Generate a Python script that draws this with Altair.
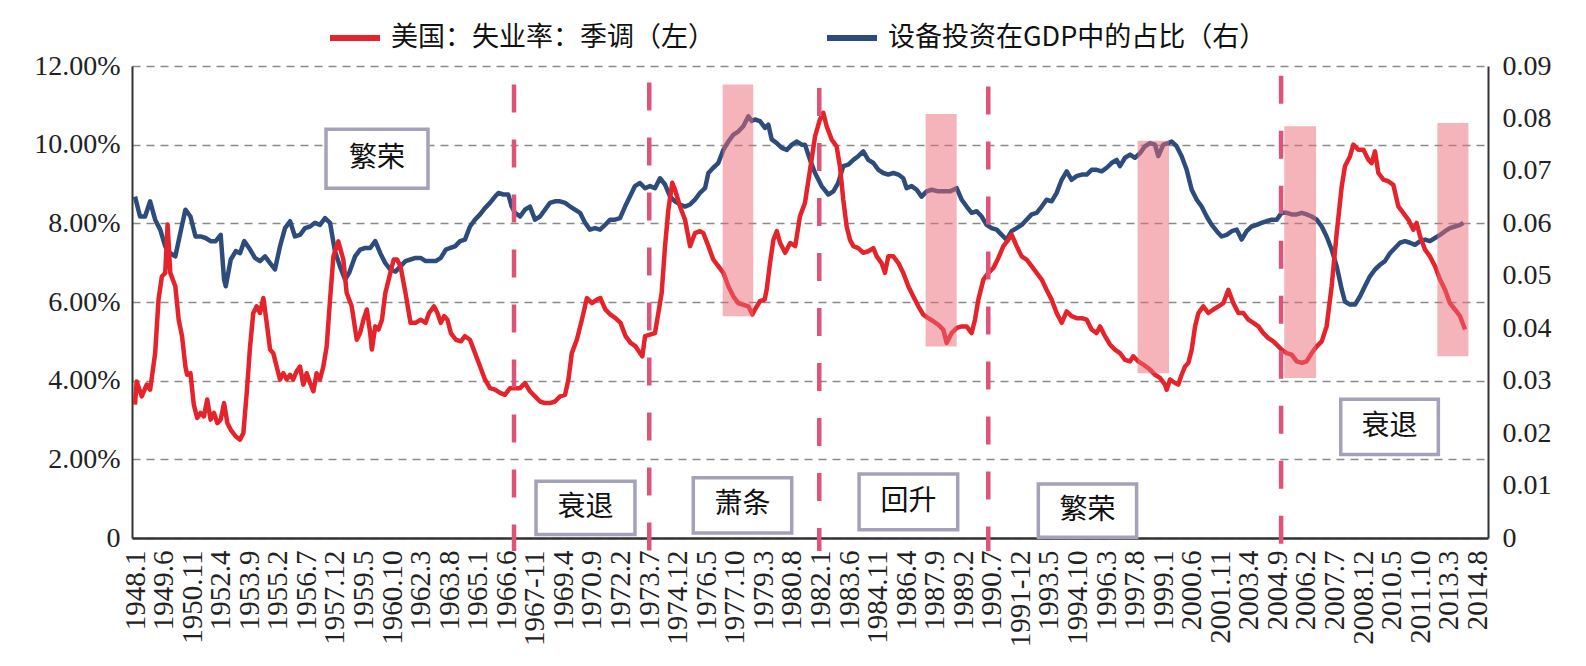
import altair as alt
import pandas as pd

# ---------------- data ----------------
# x = month index (0 = 1948.1), value in %
red_x = [0,1,4,7,9,12,14,16,18,19.4,21,24,26,28,30,31,33,35,37,39,41,43,45,47,49,51,53,55,57,60,62.5,64.5,66.5,68.5,70.4,72.4,74.4,76.4,78.4,80.4,82.3,84.3,86.3,88.3,90.3,92.3,94.2,96.2,98.2,100.2,102.2,104.2,106.2,108.1,110.1,112.1,114.1,116.1,118.1,121,124,126,129,132,134,136,138,140,141,143,145,147,149,152,154,156,158,161,164,167,170,173,175,178,180,182,184,186,188,191,194,
         196.4,199.4,202.4,205.4,208.3,211.3,214.3,217.3,220.2,223.2,226.2,229.2,232.1,235.1,238.1,241.1,244,247,250,253,256,258,260,263,266,269,272,275,277,280,283,286,289,292,295,298,300.6,302,303.6,306.5,309.5,311.5,313.5,315.5,317.5,319.8,321.4,324.4,327.4,330.4,333.3,336.3,338.3,341.3,344.2,347.2,350.2,353.2,356.2,359.1,362.1,365.1,367.5,369,372,374.8,376,378,380,382,384,387,390,393,395.8,
         398.8,401.8,404.8,407.7,409.7,411.7,414.7,417.6,419.6,421.6,423.6,425.6,427.6,430.5,433.5,436.5,439.5,441.5,444.4,446.4,448.4,451.4,454.4,457.3,460.3,463.3,466.3,469.2,472.2,475.2,478.2,481.1,483.1,486.1,489.1,492.1,495,498,500,502,505,507.9,510.9,513.9,516.9,519.8,521.8,524.8,527.8,530.7,533.7,536.7,539.7,542.6,545.6,548.6,551.6,554.6,557.5,560.5,563.5,566.5,569.4,572.4,574.4,577.4,580.3,583.3,586.3,589.3,592.3,594.2,597.2,600.2,
         604.2,607.1,610.1,613.1,614.1,616.1,619.1,621,623,625,627,629,631,633,635.9,638.9,641.9,644.9,647.8,650.8,653.8,656.8,659.7,662.7,665.7,668.7,671.6,674.6,677.6,680.6,682.5,685.5,688.5,691.5,694.5,697.4,700.4,703.4,706.4,709.3,712.3,715.3,718.3,720.2,723.2,725.2,728.2,731.2,734.1,736.1,738.1,740.1,743.1,746,749,752,755,758,760.9,762.9,764.9,767.9,770.8,773.8,776.8,779.8,782.7,785.7,788.7,791.7]
red_v = [3.39,3.98,3.60,3.90,3.77,4.70,6.06,6.65,6.74,7.97,6.74,6.40,5.55,5.13,4.36,4.15,4.19,3.39,3.05,3.18,3.09,3.52,3.01,3.18,2.92,3.01,3.43,2.92,2.75,2.58,2.50,2.67,3.69,4.87,5.72,5.89,5.72,6.10,5.47,4.79,4.70,4.36,4.03,4.19,4.03,4.15,4.03,4.24,4.36,3.90,4.19,3.94,3.73,4.19,4.03,4.36,4.87,6.06,7.16,7.54,7.08,6.23,5.89,5.04,5.21,5.55,5.81,5.21,4.79,5.38,5.30,5.55,6.23,6.74,7.08,7.08,6.91,6.23,5.47,5.47,5.55,5.47,5.72,5.89,5.72,5.47,5.64,5.55,5.21,5.04,5.00,
         5.13,5.04,4.70,4.36,4.03,3.81,3.77,3.69,3.64,3.81,3.81,3.81,3.94,3.73,3.60,3.47,3.43,3.43,3.47,3.60,3.64,4.03,4.70,5.04,5.55,6.10,5.97,6.06,6.10,5.81,5.68,5.59,5.47,5.13,4.96,4.87,4.70,4.62,5.13,5.17,5.21,5.72,6.23,7.42,8.35,9.03,8.86,8.43,8.09,7.42,7.75,7.80,7.75,7.42,7.08,6.91,6.74,6.40,6.14,5.97,5.93,5.89,5.68,5.81,6.02,6.06,6.31,6.99,7.58,7.80,7.50,7.25,7.50,7.42,8.18,
         8.52,9.36,10.21,10.64,10.81,10.47,10.13,9.96,9.45,8.60,7.92,7.58,7.42,7.37,7.25,7.29,7.37,7.16,6.99,6.74,7.16,7.16,6.99,6.74,6.40,6.14,5.89,5.68,5.59,5.51,5.42,5.30,4.96,5.21,5.34,5.38,5.38,5.21,5.55,6.06,6.57,6.74,6.86,7.12,7.42,7.58,7.71,7.42,7.16,7.08,6.91,6.74,6.57,6.31,6.06,5.72,5.47,5.76,5.64,5.59,5.59,5.55,5.30,5.21,5.38,5.13,4.92,4.79,4.70,4.53,4.49,4.62,4.49,4.41,
         4.28,4.15,4.07,3.90,3.77,4.03,3.94,3.90,4.15,4.36,4.45,4.79,5.38,5.72,5.89,5.72,5.81,5.89,5.97,6.31,5.97,5.72,5.72,5.55,5.47,5.38,5.21,5.08,5.00,4.87,4.79,4.70,4.66,4.49,4.45,4.49,4.70,4.87,5.00,5.38,6.40,7.75,8.94,9.45,9.70,10.0,9.87,9.87,9.62,9.53,9.83,9.28,9.11,9.07,8.98,8.43,8.26,8.09,7.84,8.01,7.67,7.33,7.16,6.91,6.57,6.31,5.97,5.81,5.64,5.30]

blue_x = [0,3,6,9,12,15,18,21,24,27,30,33,36,39,42,45,48,51,53,54,57,60,62.5,65,68.5,71.4,74.4,77.4,80.4,83.3,86.3,89.3,92.3,95.2,98.2,101.2,104.2,107.1,110.1,113.1,116.1,119,122,125,127.4,131,134,137,140,143,146,149,152,155,158,161,164,167,170,173,176,179,182,185,187.5,190.5,193.5,
          196.4,199.4,202.4,205.4,208.3,211.3,214.3,216.3,219.2,222.2,224.2,226.2,229.2,232.1,235.1,238.1,241.1,244,247,250,253,256,259,261.9,264.9,267.9,270.8,273.8,276.8,279.8,282.7,285.7,288.7,291.7,294.6,297.6,300.6,303.6,306.5,309.5,312.5,315.5,318.5,321.4,324.4,327.4,330.4,333.3,336.3,339.3,341.3,344.2,347.2,350.2,353.2,356.2,359.1,362.1,365.1,367.1,369,372,375,377,379,382,385,388,391,394,396.8,
          398.8,401.8,404.8,408.7,412.7,415.7,418.6,421.6,424.6,427.6,430.5,433.5,436.5,439.5,442.5,445.4,448.4,451.4,454.4,457.3,459.3,462.3,465.3,468.2,471.2,474.2,478.2,482.1,485.1,489.1,492.1,495,498,501,504,506.9,509.9,512.9,515.9,518.8,521.8,524.8,527.8,530.7,533.7,536.7,539.7,542.6,545.6,548.6,551.6,554.6,557.5,560.5,563.5,566.5,569.4,572.4,575.4,578.4,581.3,584.3,586.3,589.3,592.3,595.2,598.2,
          601.2,604.2,607.1,609.1,612.1,615.1,617.1,620,623,626,629,632,634.9,637.9,640.9,643.9,646.8,649.8,652.8,655.8,658.7,661.7,664.7,667.7,670.6,673.6,676.6,679.6,682.5,685.5,688.5,691.5,694.5,697.4,700.4,703.4,706.4,709.3,712.3,715.3,718.3,720.2,723.2,726.2,729.2,732.1,735.1,738.1,741.1,744,747,750,753,756,758.9,761.9,764.9,767.9,770.8,773.8,776.8,779.8,782.7,785.7,788.7,790.7]
blue_v = [0.0651,0.0613,0.0613,0.0642,0.0607,0.0588,0.0556,0.0543,0.0537,0.0582,0.0626,0.0613,0.0575,0.0575,0.0572,0.0566,0.0566,0.0578,0.0493,0.0480,0.0531,0.0547,0.0543,0.0566,0.0550,0.0534,0.0528,0.0537,0.0524,0.0512,0.0556,0.0591,0.0604,0.0575,0.0578,0.0591,0.0594,0.0601,0.0597,0.0610,0.0601,0.0547,0.0518,0.0493,0.0505,0.0537,0.0550,0.0553,0.0553,0.0566,0.0543,0.0524,0.0512,0.0508,0.0518,0.0528,0.0531,0.0534,0.0534,0.0528,0.0528,0.0528,0.0534,0.0550,0.0553,0.0556,0.0566,
          0.0569,0.0594,0.0607,0.0617,0.0629,0.0639,0.0651,0.0658,0.0655,0.0655,0.0632,0.0620,0.0613,0.0626,0.0632,0.0607,0.0613,0.0626,0.0639,0.0642,0.0642,0.0639,0.0632,0.0626,0.0620,0.0601,0.0588,0.0591,0.0588,0.0597,0.0607,0.0607,0.0610,0.0632,0.0651,0.0671,0.0677,0.0667,0.0671,0.0667,0.0686,0.0674,0.0651,0.0642,0.0636,0.0632,0.0636,0.0645,0.0658,0.0667,0.0696,0.0706,0.0715,0.0740,0.0756,0.0769,0.0775,0.0785,0.0804,0.0795,0.0798,0.0795,0.0782,0.0788,0.0760,0.0753,0.0744,0.0740,0.0750,0.0756,0.0750,
          0.0750,0.0721,0.0696,0.0671,0.0655,0.0661,0.0677,0.0709,0.0712,0.0721,0.0728,0.0737,0.0721,0.0715,0.0702,0.0696,0.0693,0.0696,0.0693,0.0686,0.0667,0.0671,0.0664,0.0651,0.0661,0.0664,0.0661,0.0661,0.0661,0.0667,0.0645,0.0632,0.0620,0.0623,0.0613,0.0597,0.0591,0.0588,0.0578,0.0569,0.0585,0.0591,0.0597,0.0607,0.0617,0.0620,0.0632,0.0645,0.0642,0.0658,0.0683,0.0699,0.0683,0.0690,0.0693,0.0693,0.0702,0.0702,0.0699,0.0706,0.0715,0.0721,0.0709,0.0725,0.0731,0.0725,0.0734,
          0.0747,0.0753,0.0750,0.0728,0.0750,0.0753,0.0756,0.0747,0.0728,0.0702,0.0664,0.0645,0.0632,0.0613,0.0597,0.0585,0.0575,0.0578,0.0585,0.0588,0.0569,0.0585,0.0594,0.0597,0.0601,0.0604,0.0607,0.0607,0.0620,0.0620,0.0617,0.0617,0.0620,0.0617,0.0613,0.0607,0.0594,0.0575,0.0550,0.0518,0.0474,0.0451,0.0445,0.0445,0.0461,0.0480,0.0499,0.0512,0.0521,0.0528,0.0543,0.0553,0.0563,0.0566,0.0563,0.0559,0.0566,0.0569,0.0566,0.0572,0.0578,0.0585,0.0591,0.0594,0.0597,0.0601]

tick_labels = ["1948.1","1949.6","1950.11","1952.4","1953.9","1955.2","1956.7","1957.12","1959.5","1960.10",
               "1962.3","1963.8","1965.1","1966.6","1967-11","1969.4","1970.9","1972.2","1973.7","1974.12",
               "1976.5","1977.10","1979.3","1980.8","1982.1","1983.6","1984.11","1986.4","1987.9","1989.2",
               "1990.7","1991-12","1993.5","1994.10","1996.3","1997.8","1999.1","2000.6","2001.11","2003.4",
               "2004.9","2006.2","2007.7","2008.12","2010.5","2011.10","2013.3","2014.8"]
tick_step = 17

# phase dividers (dashed lines)
div_x = [225.6, 306.1, 407.3, 507.9, 682.2]
div_top = [11.53, 11.58, 11.44, 11.48, 11.75]
div_bottom = [-0.33, -0.33, -0.33, -0.33, -0.33]

# shaded bands
band_x1 = [349.8, 470.6, 596.8, 684.1, 775.2]
band_x2 = [368.0, 489.1, 615.5, 703.0, 793.7]
band_top = [11.53, 10.78, 10.10, 10.47, 10.55]
band_bottom = [5.64, 4.87, 4.19, 4.07, 4.62]

# phase label boxes
box_text = ["繁荣", "衰退", "萧条", "回升", "繁荣", "衰退"]
box_x1 = [113.7, 238.7, 332.3, 431.0, 537.7, 717.7]
box_x2 = [174.4, 297.6, 390.9, 489.7, 596.2, 775.8]
box_top = [10.39, 1.44, 1.53, 1.63, 1.37, 3.53]
box_bottom = [8.89, 0.09, 0.13, 0.21, 0.02, 2.12]

RED_NAME = "美国：失业率：季调（左）"
BLUE_NAME = "设备投资在GDP中的占比（右）"

# ---------------- tables ----------------
red_df = pd.DataFrame({"x": red_x, "v": red_v, "series": RED_NAME})
blue_df = pd.DataFrame({"x": blue_x, "v": blue_v, "series": BLUE_NAME})
div_df = pd.DataFrame({"x": div_x, "top": div_top, "bottom": div_bottom})
band_df = pd.DataFrame({"x1": band_x1, "x2": band_x2, "top": band_top, "bottom": band_bottom})
box_df = pd.DataFrame({"t": box_text, "x1": box_x1, "x2": box_x2, "top": box_top, "bottom": box_bottom})
box_df["xc"] = (box_df["x1"] + box_df["x2"]) / 2
box_df["yc"] = (box_df["top"] + box_df["bottom"]) / 2

SERIF = "Liberation Serif"
CJK = "Noto Sans CJK SC"

label_arr = "[" + ",".join("'" + s + "'" for s in tick_labels) + "]"
x_axis = alt.Axis(
    orient="bottom", values=[i * tick_step for i in range(len(tick_labels))],
    labelExpr=label_arr + "[round(datum.value/" + str(tick_step) + ")]",
    labelAngle=270, labelFont=SERIF, labelFontSize=29, labelColor="#222222",
    labelPadding=12, labelOverlap=False, labelFlush=False, ticks=False, tickSize=0,
    grid=False, domain=True, domainColor="#333333", domainWidth=2.5, title=None,
)
x_scale = alt.Scale(domain=[-1.79, 805.36], nice=False, zero=False)

y_axis = alt.Axis(
    orient="left", values=[0, 2, 4, 6, 8, 10, 12],
    labelExpr="datum.value == 0 ? '0' : format(datum.value, '.2f') + '%'",
    labelFont=SERIF, labelFontSize=28, labelColor="#222222", labelPadding=12,
    ticks=False, tickSize=0, grid=True, gridDash=[8, 6], gridColor="#8a8a8a", gridWidth=1.5,
    domain=True, domainColor="#333333", domainWidth=2, title=None,
)
y_scale = alt.Scale(domain=[0, 12], nice=False, zero=False)

y2_axis = alt.Axis(
    orient="right", values=[0, 0.01, 0.02, 0.03, 0.04, 0.05, 0.06, 0.07, 0.08, 0.09],
    labelExpr="datum.value < 0.0001 ? '0' : format(datum.value, '.2f')",
    labelFont=SERIF, labelFontSize=28, labelColor="#222222", labelPadding=14,
    ticks=False, tickSize=0, grid=False, domain=True, domainColor="#333333", domainWidth=2,
    title=None,
)
y2_scale = alt.Scale(domain=[0, 0.09], nice=False, zero=False)

color = alt.Color(
    "series:N",
    scale=alt.Scale(domain=[RED_NAME, BLUE_NAME], range=["#E5232B", "#2D4C7C"]),
    legend=alt.Legend(
        title=None, orient="none", direction="horizontal", legendX=195, legendY=-56,
        symbolType="stroke", symbolSize=2500, symbolStrokeWidth=6,
        labelFont=CJK, labelFontSize=27, labelColor="#111111", labelLimit=800,
        labelOffset=8, columnPadding=100, padding=0,
    ),
)

X = lambda f: alt.X(f, type="quantitative", scale=x_scale, axis=x_axis)
Y = lambda f: alt.Y(f, type="quantitative", scale=y_scale, axis=y_axis)

blue_line = alt.Chart(blue_df).mark_line(strokeWidth=4.5, strokeJoin="round").encode(
    x=X("x"),
    y=alt.Y("v:Q", scale=y2_scale, axis=y2_axis),
    color=color,
    order=alt.Order("x:Q"),
)

red_line = alt.Chart(red_df).mark_line(strokeWidth=4.5, strokeJoin="round").encode(
    x=X("x"), y=Y("v"), color=color, order=alt.Order("x:Q"),
)

bands = alt.Chart(band_df).mark_rect(fill="#EC6A76", opacity=0.5).encode(
    x=X("x1"), x2="x2", y=Y("top"), y2="bottom",
)

dividers = alt.Chart(div_df).mark_rule(color="#DE5478", strokeWidth=4.5, strokeDash=[28, 27]).encode(
    x=X("x"), y=Y("top"), y2="bottom",
)

boxes = alt.Chart(box_df).mark_rect(fill="white", stroke="#A3A2B8", strokeWidth=3.5).encode(
    x=X("x1"), x2="x2", y=Y("top"), y2="bottom",
)

box_labels = alt.Chart(box_df).mark_text(font=CJK, fontSize=28, color="#111111").encode(
    x=X("xc"), y=Y("yc"), text="t:N",
)

left_group = alt.layer(red_line, bands, dividers, boxes, box_labels)

chart = alt.layer(blue_line, left_group).resolve_scale(y="independent").properties(
    width=1356, height=472,
    padding={"left": 132, "top": 66, "right": 98, "bottom": 128},
    autosize=alt.AutoSizeParams(type="none"),
    background="white",
).configure_view(stroke=None)

chart.save("out.html", embed_options={"renderer": "svg", "actions": False})
